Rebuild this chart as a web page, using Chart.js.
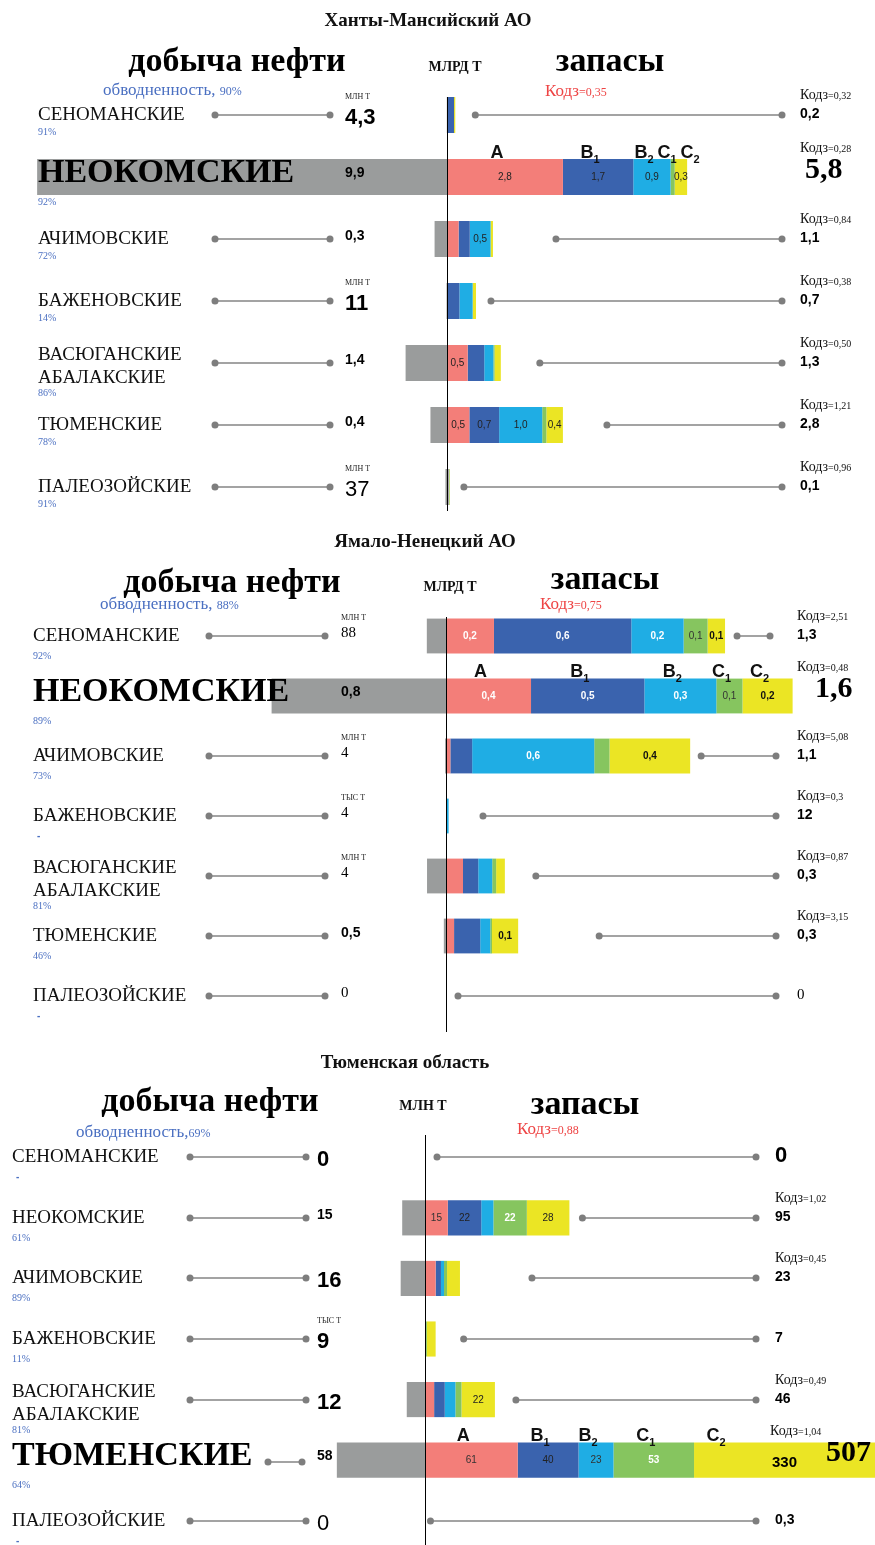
<!DOCTYPE html>
<html>
<head>
<meta charset="utf-8">
<script src="https://cdn.jsdelivr.net/npm/chart.js@4.4.1/dist/chart.umd.min.js"></script>
<style>
    html, body { margin: 0; padding: 0; background: #fff; overflow: hidden; width: 875px; height: 1545px; }
    canvas { position: absolute; left: 0; }
</style>
</head>
<body>
<canvas id="hmao" width="875" height="520" style="top:0"></canvas>
<canvas id="yanao" width="875" height="520" style="top:520px"></canvas>
<canvas id="tyumen" width="875" height="520" style="top:1040px"></canvas>
<script>
const strata = ['СЕНОМАНСКИЕ', 'НЕОКОМСКИЕ', 'АЧИМОВСКИЕ', 'БАЖЕНОВСКИЕ', 'ВАСЮГАНСКИЕ\nАБАЛАКСКИЕ', 'ТЮМЕНСКИЕ', 'ПАЛЕОЗОЙСКИЕ'];
const seriesNames = ['A', 'B1', 'B2', 'C1', 'C2'];
const seriesColours = ['#F37E79', '#3A63AE', '#1FADE4', '#86C55F', '#EBE524'];
const prodColour = '#9A9C9C';

// Ханты-Мансийский АО (бары в млрд т)
const hmaoProd = [0.0043, 9.9, 0.3, 0.011, 1.0, 0.4, 0.037];
const hmaoProdText = ['4,3', '9,9', '0,3', '11', '1,4', '0,4', '37'];
const hmaoProdUnit = ['МЛН Т', '', '', 'МЛН Т', '', '', 'МЛН Т'];
const hmaoWater = ['91%', '92%', '72%', '14%', '86%', '78%', '91%'];
const hmaoA = [0, 2.8, 0.28, 0, 0.5, 0.54, 0.03];
const hmaoB1 = [0.17, 1.7, 0.27, 0.3, 0.4, 0.72, 0.01];
const hmaoB2 = [0, 0.9, 0.5, 0.32, 0.22, 1.04, 0];
const hmaoC1 = [0, 0.1, 0.01, 0, 0.03, 0.1, 0.02];
const hmaoC2 = [0.03, 0.3, 0.05, 0.08, 0.15, 0.4, 0.01];
const hmaoTotal = ['0,2', '5,8', '1,1', '0,7', '1,3', '2,8', '0,1'];
const hmaoKodz = ['0,32', '0,28', '0,84', '0,38', '0,50', '1,21', '0,96'];
const hmaoTagged = ['1A', '1B1', '1B2', '1C2', '2B2', '4A', '5A', '5B1', '5B2', '5C2'];

// Ямало-Ненецкий АО (млрд т)
const yanaoProd = [0.088, 0.8, 0.004, 0.000004, 0.087, 0.01, 0];
const yanaoProdText = ['88', '0,8', '4', '4', '4', '0,5', '0'];
const yanaoProdUnit = ['МЛН Т', '', 'МЛН Т', 'ТЫС Т', 'МЛН Т', '', ''];
const yanaoWater = ['92%', '89%', '73%', '-', '81%', '46%', '-'];
const yanaoA = [0.22, 0.39, 0.02, 0, 0.078, 0.037, 0];
const yanaoB1 = [0.63, 0.52, 0.1, 0, 0.07, 0.12, 0];
const yanaoB2 = [0.24, 0.33, 0.56, 0.012, 0.064, 0.046, 0];
const yanaoC1 = [0.11, 0.12, 0.07, 0, 0.018, 0.008, 0];
const yanaoC2 = [0.08, 0.23, 0.37, 0, 0.04, 0.12, 0];
const yanaoTotal = ['1,3', '1,6', '1,1', '12', '0,3', '0,3', '0'];
const yanaoKodz = ['2,51', '0,48', '5,08', '0,3', '0,87', '3,15', null];
const yanaoTagged = ['0A', '0B1', '0B2', '0C1', '0C2', '1A', '1B1', '1B2', '1C1', '1C2', '2B2', '2C2', '5C2'];

// Тюменская область (млн т)
const tyumProd = [0, 15, 16, 0.009, 12, 58, 0];
const tyumProdText = ['0', '15', '16', '9', '12', '58', '0'];
const tyumProdUnit = ['', '', '', 'ТЫС Т', '', '', ''];
const tyumWater = ['-', '61%', '89%', '11%', '81%', '64%', '-'];
const tyumA = [0, 15, 7, 0, 6, 61, 0.1];
const tyumB1 = [0, 22, 3.5, 0, 7, 40, 0.1];
const tyumB2 = [0, 8, 2, 0, 7, 23, 0];
const tyumC1 = [0, 22, 2, 1.2, 4, 53, 0.05];
const tyumC2 = [0, 28, 8.5, 5.8, 22, 330, 0.05];
const tyumTotal = ['0', '95', '23', '7', '46', '507', '0,3'];
const tyumKodz = [null, '1,02', '0,45', null, '0,49', '1,04', null];
const tyumTagged = ['1A', '1B1', '1C1', '1C2', '4C2', '5A', '5B1', '5B2', '5C1', '5C2'];

const SERIF = '"Liberation Serif", "Times New Roman", serif';
const SANS = '"Liberation Sans", Arial, sans-serif';
const fonts = {
    big: `bold 22px ${SANS}`,
    small: `bold 14px ${SANS}`,
    thin: `15px ${SERIF}`,
    bigThin: `22px ${SANS}`,
};

const hmaoLayout = {
    title: 'Ханты-Мансийский АО', unit: 'МЛРД Т', water: '90%', waterSep: ', ', kodz: '0,35', dec: 1,
    top: 84, bottom: 2, zeroX: 447, ppu: 41.4, axis: [97, 511],
    titleAt: [428, 21], prodAt: [237, 62], unitAt: [455, 67], resAt: [610, 62], waterAt: [103, 95], kodzAt: [545, 96],
    nameX: 38, valX: 345, dumb: [215, 330], bigDumb: null, rEnd: 782, rX: 800, bigX: 805, pctDy: 17,
    gaps: [20, 0, 63, 15, 39, 44, 14], big: 1,
    valStyle: ['big', 'small', 'small', 'big', 'small', 'small', 'bigThin'],
    totStyle: ['small', 'small', 'small', 'small', 'small', 'small', 'small'],
    tagColour: ['#222', '#222', '#222', '#222', '#222'], tagBold: [false, false, false, false, false],
};
const yanaoLayout = {
    title: 'Ямало-Ненецкий АО', unit: 'МЛРД Т', water: '88%', waterSep: ', ', kodz: '0,75', dec: 1,
    top: 86, bottom: 14, zeroX: 446, ppu: 218, axis: [97, 512],
    titleAt: [425, 22], prodAt: [232, 63], unitAt: [450, 67], resAt: [605, 60], waterAt: [100, 89], kodzAt: [540, 89],
    nameX: 33, valX: 341, dumb: [209, 325], bigDumb: null, rEnd: 776, rX: 797, bigX: 815, pctDy: 20,
    gaps: [12, 0, 11, 37, 31, 81, 12], big: 1,
    valStyle: ['thin', 'small', 'thin', 'thin', 'thin', 'small', 'thin'],
    totStyle: ['small', 'small', 'small', 'small', 'small', 'small', 'thin'],
    tagColour: ['#fff', '#fff', '#fff', '#333', '#111'], tagBold: [true, true, true, false, true],
};
const tyumLayout = {
    title: 'Тюменская область', unit: 'МЛН Т', water: '69%', waterSep: ',', kodz: '0,88', dec: 0,
    top: 87, bottom: 9, zeroX: 425, ppu: 1.52, axis: [95, 520],
    titleAt: [405, 23], prodAt: [210, 62], unitAt: [423, 66], resAt: [585, 65], waterAt: [76, 97], kodzAt: [517, 94],
    nameX: 12, valX: 317, dumb: [190, 306], bigDumb: [268, 302], rEnd: 756, rX: 775, bigX: 826, pctDy: 20,
    gaps: [12, 13, 72, 28, 21, 0, 5], big: 5,
    valStyle: ['big', 'small', 'big', 'big', 'big', 'small', 'bigThin'],
    totStyle: ['big', 'small', 'small', 'small', 'small', 'small', 'small'],
    tagColour: ['#333', '#222', '#333', '#fff', '#222'], tagBold: [false, false, false, true, false],
};

const fmt = (v, dec) => v.toFixed(dec).replace('.', ',');

const txt = (ctx, s, x, y, font, colour, align, base) => {
    ctx.font = font;
    ctx.fillStyle = colour;
    ctx.textAlign = align || 'left';
    ctx.textBaseline = base || 'middle';
    ctx.fillText(s, x, y);
    return ctx.measureText(s).width;
};

const dumbbell = (ctx, x1, x2, y) => {
    ctx.strokeStyle = '#A3A3A3';
    ctx.lineWidth = 2;
    ctx.beginPath();
    ctx.moveTo(x1, y);
    ctx.lineTo(x2, y);
    ctx.stroke();
    ctx.fillStyle = '#7E7E7E';
    [x1, x2].forEach((px) => {
        ctx.beginPath();
        ctx.arc(px, y, 3.5, 0, Math.PI * 2);
        ctx.fill();
    });
};

const kodzText = (ctx, v, x, y, big, colour) => {
    let w = txt(ctx, 'Кодз', x, y, big ? `17px ${SERIF}` : `14px ${SERIF}`, colour, 'left', 'alphabetic');
    txt(ctx, '=' + v, x + w, y, big ? `12px ${SERIF}` : `10px ${SERIF}`, colour, 'left', 'alphabetic');
};

const seriesLabel = (ctx, name, x, y) => {
    ctx.font = `bold 18px ${SANS}`;
    let w = ctx.measureText(name[0]).width + (name.length > 1 ? ctx.measureText('1').width * 0.6 : 0);
    let x0 = x - w / 2;
    let lw = txt(ctx, name[0], x0, y, `bold 18px ${SANS}`, '#111', 'left', 'alphabetic');
    if (name.length > 1) txt(ctx, name[1], x0 + lw, y + 5, `bold 11px ${SANS}`, '#111', 'left', 'alphabetic');
};

const annotations = (p) => ({
    id: 'annotations',
    afterDatasetsDraw(chart) {
        const { ctx, scales: { x, y }, chartArea } = chart;
        const L = p.lay;
        const zero = Math.round(x.getPixelForValue(0)) + 0.5;
        ctx.save();

        ctx.strokeStyle = '#000';
        ctx.lineWidth = 1;
        ctx.beginPath();
        ctx.moveTo(zero, L.axis[0]);
        ctx.lineTo(zero, L.axis[1]);
        ctx.stroke();

        txt(ctx, L.title, L.titleAt[0], L.titleAt[1], `bold 19px ${SERIF}`, '#111', 'center');
        txt(ctx, 'добыча нефти', L.prodAt[0], L.prodAt[1], `bold 34px ${SERIF}`, '#000', 'center');
        txt(ctx, L.unit, L.unitAt[0], L.unitAt[1], `bold 14px ${SERIF}`, '#111', 'center');
        txt(ctx, 'запасы', L.resAt[0], L.resAt[1], `bold 34px ${SERIF}`, '#000', 'center');
        let ww = txt(ctx, 'обводненность' + L.waterSep, L.waterAt[0], L.waterAt[1], `17px ${SERIF}`, '#4A6FC1', 'left', 'alphabetic');
        txt(ctx, L.water, L.waterAt[0] + ww, L.waterAt[1], `12px ${SERIF}`, '#4A6FC1', 'left', 'alphabetic');
        kodzText(ctx, L.kodz, L.kodzAt[0], L.kodzAt[1], true, '#EE4444');

        const endMeta = chart.getDatasetMeta(5);
        strata.forEach((name, i) => {
            const cy = Math.round(y.getPixelForValue(i));
            const big = i === L.big;
            const lines = name.split('\n');

            // left side: name, water cut, dumbbell, production value
            if (big) {
                txt(ctx, name, L.nameX, cy - 4, `bold 34px ${SERIF}`, '#000');
                if (L.bigDumb) dumbbell(ctx, L.bigDumb[0], L.bigDumb[1], cy + 2);
            } else if (lines.length > 1) {
                txt(ctx, lines[0], L.nameX, cy - 8, `19px ${SERIF}`, '#111');
                txt(ctx, lines[1], L.nameX, cy + 15, `19px ${SERIF}`, '#111');
            } else {
                txt(ctx, name, L.nameX, cy, `19px ${SERIF}`, '#111');
            }
            if (!big) dumbbell(ctx, L.dumb[0], L.dumb[1], cy);
            const pdy = big ? 25 : lines.length > 1 ? 30 : L.pctDy;
            const pct = p.water[i];
            txt(ctx, pct, L.nameX + (pct === '-' ? 4 : 0), cy + pdy, pct === '-' ? `bold 10px ${SANS}` : `10px ${SERIF}`, '#4A6FC1');

            const vs = L.valStyle[i];
            const vdy = vs === 'big' || vs === 'bigThin' ? 3 : big ? -4 : -3;
            txt(ctx, p.prodText[i], L.valX, cy + vdy, fonts[vs], '#000');
            if (p.prodUnit[i]) txt(ctx, p.prodUnit[i], L.valX, cy - 18, `8px ${SERIF}`, '#222');

            // bar labels inside segments, series letters over the big row
            let prevLabel = -100;
            seriesNames.forEach((s, k) => {
                const el = chart.getDatasetMeta(k + 1).data[i];
                const x0 = Math.max(el.base, chartArea.left);
                const x1 = Math.min(el.x, chartArea.right);
                const cx = el.x > chartArea.right ? Math.min((x0 + x1) / 2, x0 + 95) : (x0 + x1) / 2;
                if (p.tagged.includes(i + s)) {
                    const v = p.res[k][i];
                    const f = v >= 100 ? `bold 15px ${SANS}` : `${L.tagBold[k] ? 'bold ' : ''}10px ${SANS}`;
                    txt(ctx, fmt(v, L.dec), cx, cy + (v >= 100 ? 3 : 0), f, v >= 100 ? '#000' : L.tagColour[k], 'center');
                }
                if (big) {
                    let lx = el.x > chartArea.right ? x0 + 22 : cx - 8;
                    lx = Math.max(lx, prevLabel + 23);
                    prevLabel = lx;
                    seriesLabel(ctx, s, lx, cy - 19);
                }
            });

            // right side: dumbbell, Кодз, total reserves
            const barEnd = endMeta.data[i].x;
            if (big) {
                if (p.kodz[i]) kodzText(ctx, p.kodz[i], L.rX - (L.big === 5 ? 5 : 0), cy - 25, false, '#111');
                txt(ctx, p.total[i], L.bigX, cy - 7, `bold 30px ${SERIF}`, '#000');
            } else {
                dumbbell(ctx, barEnd + L.gaps[i], L.rEnd - (i === 0 && L.gaps[0] === 12 && L.big === 1 ? 6 : 0), cy);
                if (p.kodz[i]) kodzText(ctx, p.kodz[i], L.rX, cy - 16, false, '#111');
                txt(ctx, p.total[i], L.rX, cy - 1, fonts[L.totStyle[i]], '#000');
            }
        });
        ctx.restore();
    },
});

const makePanel = (id, p) => {
    const datasets = [{ label: 'добыча', data: p.prod.map((v) => -v), backgroundColor: prodColour }];
    p.res.forEach((arr, k) => datasets.push({ label: seriesNames[k], data: arr, backgroundColor: seriesColours[k] }));
    datasets.forEach((ds) => {
        ds.borderWidth = 0;
        ds.barPercentage = 0.58;
        ds.categoryPercentage = 1;
    });
    const W = 875;
    return new Chart(document.getElementById(id), {
        type: 'bar',
        data: { labels: strata, datasets: datasets },
        options: {
            indexAxis: 'y',
            responsive: false,
            animation: false,
            devicePixelRatio: 1,
            layout: { padding: { top: p.lay.top, bottom: p.lay.bottom, left: 0, right: 0 } },
            scales: {
                x: { stacked: true, display: false, min: -p.lay.zeroX / p.lay.ppu, max: (W - p.lay.zeroX) / p.lay.ppu },
                y: { stacked: true, display: false },
            },
            plugins: { legend: { display: false }, tooltip: { enabled: false } },
        },
        plugins: [annotations(p)],
    });
};

let hmaoChart = makePanel('hmao', {
    prod: hmaoProd, prodText: hmaoProdText, prodUnit: hmaoProdUnit, water: hmaoWater,
    res: [hmaoA, hmaoB1, hmaoB2, hmaoC1, hmaoC2], total: hmaoTotal, kodz: hmaoKodz, tagged: hmaoTagged, lay: hmaoLayout,
});
let yanaoChart = makePanel('yanao', {
    prod: yanaoProd, prodText: yanaoProdText, prodUnit: yanaoProdUnit, water: yanaoWater,
    res: [yanaoA, yanaoB1, yanaoB2, yanaoC1, yanaoC2], total: yanaoTotal, kodz: yanaoKodz, tagged: yanaoTagged, lay: yanaoLayout,
});
let tyumChart = makePanel('tyumen', {
    prod: tyumProd, prodText: tyumProdText, prodUnit: tyumProdUnit, water: tyumWater,
    res: [tyumA, tyumB1, tyumB2, tyumC1, tyumC2], total: tyumTotal, kodz: tyumKodz, tagged: tyumTagged, lay: tyumLayout,
});
</script>
</body>
</html>
